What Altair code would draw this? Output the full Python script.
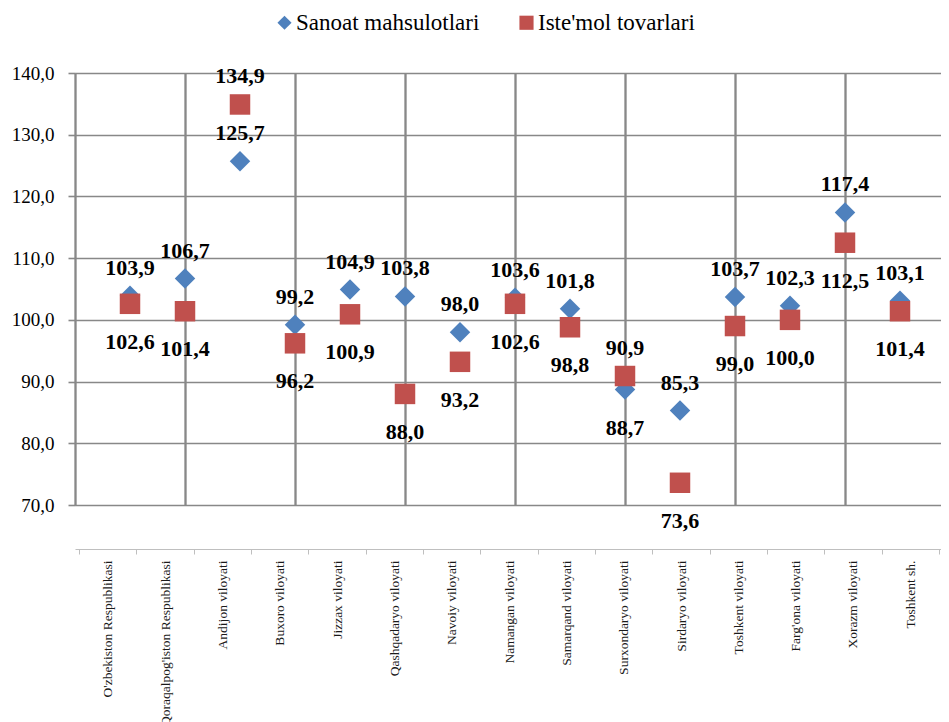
import altair as alt
import pandas as pd

categories = [
    "O'zbekiston Respublikasi", "Qoraqalpog'iston Respublikasi", "Andijon viloyati",
    "Buxoro viloyati", "Jizzax viloyati", "Qashqadaryo viloyati", "Navoiy viloyati",
    "Namangan viloyati", "Samarqand viloyati", "Surxondaryo viloyati", "Sirdaryo viloyati",
    "Toshkent viloyati", "Farg'ona viloyati", "Xorazm viloyati", "Toshkent sh.",
]
sanoat = [103.9, 106.7, 125.7, 99.2, 104.9, 103.8, 98.0, 103.6, 101.8, 88.7, 85.3, 103.7, 102.3, 117.4, 103.1]
istemol = [102.6, 101.4, 134.9, 96.2, 100.9, 88.0, 93.2, 102.6, 98.8, 90.9, 73.6, 99.0, 100.0, 112.5, 101.4]
series_names = ["Sanoat mahsulotlari", "Iste'mol tovarlari"]
y_ticks = [70, 80, 90, 100, 110, 120, 130, 140]

BLUE = "#4F81BD"
RED = "#C0504D"
GRID = "#888888"
FONT = "Liberation Serif"

rows = []
for i, cat in enumerate(categories):
    b, r = sanoat[i], istemol[i]
    b_above = (b >= r) or (b > 120)
    r_above = r > b
    rows.append(dict(idx=i + 1, cat=cat, series=series_names[0], value=b,
                     label=f"{b:.1f}".replace(".", ","), pos="above" if b_above else "below"))
    rows.append(dict(idx=i + 1, cat=cat, series=series_names[1], value=r,
                     label=f"{r:.1f}".replace(".", ","), pos="above" if r_above else "below"))
df = pd.DataFrame(rows)
cat_df = pd.DataFrame({"cat": categories, "value": [70] * len(categories)})

W = 866
H = 432
STEP = 55.0

yscale = alt.Scale(domain=[70, 140], nice=False, zero=False)
xq = alt.X(
    "idx:Q",
    scale=alt.Scale(domain=[0, W / STEP], nice=False, zero=False),
    axis=alt.Axis(values=list(range(0, 16, 2)), grid=True, gridColor=GRID, gridWidth=1.6,
                  labels=False, ticks=False, domain=False, title=None),
)
yax = alt.Y(
    "value:Q", scale=yscale,
    axis=alt.Axis(values=y_ticks, grid=True, gridColor=GRID, gridWidth=1.6, domain=False,
                  ticks=True, tickSize=7, tickColor=GRID, tickWidth=1.6,
                  labelFont=FONT, labelFontSize=19, labelColor="#000000", labelPadding=14,
                  labelExpr="replace(format(datum.value, '.1f'), '.', ',')", title=None),
)

points = alt.Chart(df).mark_point(filled=True, opacity=1, size=420).encode(
    x=xq,
    y=yax,
    color=alt.Color("series:N", scale=alt.Scale(domain=series_names, range=[BLUE, RED]),
                    legend=alt.Legend(title=None, orient="none", legendX=198, legendY=-62,
                                      direction="horizontal", labelFont=FONT, labelFontSize=23,
                                      labelColor="#000000", symbolSize=200, columnPadding=35,
                                      labelOffset=0, symbolStrokeWidth=0, labelLimit=500)),
    shape=alt.Shape("series:N", scale=alt.Scale(domain=series_names, range=["diamond", "square"])),
)

lab_above = alt.Chart(df).transform_filter("datum.pos == 'above'").mark_text(
    font=FONT, fontSize=22, fontWeight="bold", color="#000000", dy=-28, baseline="middle"
).encode(x=xq, y=alt.Y("value:Q", scale=yscale), text="label:N")

lab_below = alt.Chart(df).transform_filter("datum.pos == 'below'").mark_text(
    font=FONT, fontSize=22, fontWeight="bold", color="#000000", dy=38, baseline="middle"
).encode(x=xq, y=alt.Y("value:Q", scale=yscale), text="label:N")

cat_axis = alt.Chart(cat_df).mark_bar(opacity=0).encode(
    x=alt.X("cat:N", sort=categories,
            scale=alt.Scale(type="band", paddingInner=0, paddingOuter=0.0525, align=0.667),
            axis=alt.Axis(orient="bottom", offset=44, domainColor="#bfbfbf", domainWidth=1,
                          tickColor="#bfbfbf", tickSize=5, tickBand="extent", grid=False,
                          labelAngle=270, labelFont=FONT, labelFontSize=13.5,
                          labelColor="#1a1a1a", labelPadding=6, labelLimit=400, title=None)),
    y=alt.Y("value:Q", scale=yscale),
)

chart = alt.layer(points, lab_above, lab_below, cat_axis).resolve_scale(
    x="independent"
).properties(
    width=W, height=H,
    autosize=alt.AutoSizeParams(type="none"),
    padding={"left": 67, "top": 65, "right": 0, "bottom": 217},
).configure_view(stroke=None)

chart.save("out.html", embed_options={"renderer": "svg", "actions": False})
